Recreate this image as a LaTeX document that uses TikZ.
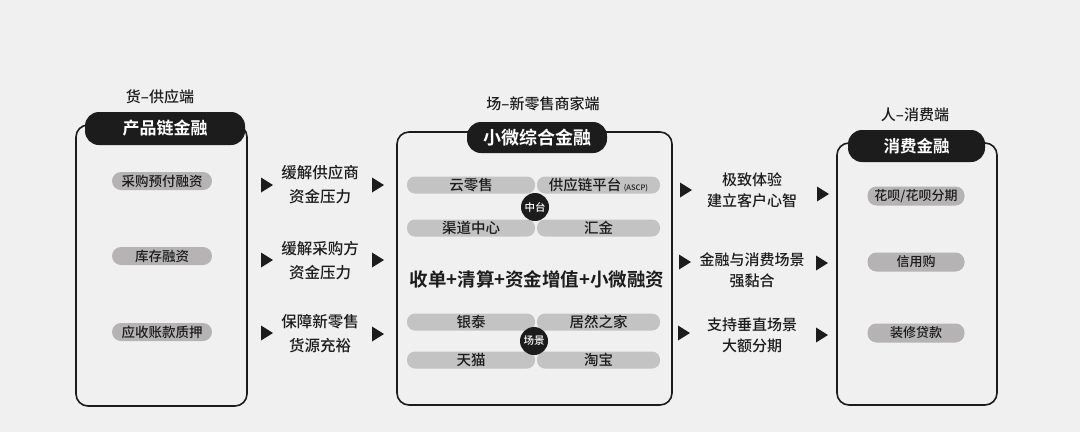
\documentclass[tikz,border=0pt]{standalone}
\usepackage{fontspec}
\setmainfont{Noto Sans CJK SC}[UprightFont={* Medium}, BoldFont={* Bold}]
\definecolor{paper}{HTML}{F1F0F0}
\definecolor{ink}{HTML}{1C1C1C}
\definecolor{pillgray}{HTML}{B5B3B3}
\definecolor{midgray}{HTML}{C4C3C3}
\tikzset{
  framebox/.style={draw=ink, line width=1.6pt, rounded corners=12pt, inner sep=0pt},
  headpill/.style={fill=ink, text=white, rounded corners=14pt, inner sep=0pt,
    font=\bfseries\fontsize{17}{17}\selectfont},
  sidelabel/.style={text=ink, font=\fontsize{15}{15}\selectfont},
  lpill/.style={fill=pillgray, rounded corners=9pt, minimum width=100pt, minimum height=18pt,
    inner sep=0pt, text=ink, font=\fontsize{13.5}{14}\selectfont},
  rpill/.style={fill=pillgray, rounded corners=9pt, minimum width=97pt, minimum height=19pt,
    inner sep=0pt, text=ink, font=\fontsize{13}{14}\selectfont},
  mpill/.style={fill=midgray, rounded corners=8pt, minimum height=17pt,
    inner sep=0pt, text=ink, font=\fontsize{14.5}{15}\selectfont},
  hub/.style={circle, fill=ink, text=white, minimum size=28pt, inner sep=0pt,
    font=\fontsize{10.5}{11}\selectfont},
  note/.style={align=center, text=ink, font=\fontsize{15.5}{24}\selectfont},
  tri/.pic={\fill[ink] (-6,-7.5) -- (6,0) -- (-6,7.5) -- cycle;}
}
\begin{document}
\begin{tikzpicture}[x=1pt,y=-1pt]
\fill[paper] (0,0) rectangle (1080,432);
\useasboundingbox (0,0) rectangle (1080,432);

% ---------- left column ----------
\node[sidelabel] (lt) at (160,97) {货–供应端};
\node[framebox, minimum width=171pt, minimum height=281pt] (lbox) at (161.5,265.5) {};
\node[headpill, minimum width=160pt, minimum height=33pt] (lh) at (165,128.5) {产品链金融};
\node[lpill] (l1) at (162,181) {采购预付融资};
\node[lpill] (l2) at (162,256) {库存融资};
\node[lpill] (l3) at (162,332) {应收账款质押};

% arrows and notes, left
\pic at (267,185) {tri};
\pic at (267,260) {tri};
\pic at (267,333) {tri};
\node[note] (n1) at (320,185) {缓解供应商\\资金压力};
\node[note] (n2) at (320,261) {缓解采购方\\资金压力};
\node[note] (n3) at (320,334) {保障新零售\\货源充裕};
\pic at (378,185) {tri};
\pic at (378,260) {tri};
\pic at (378,334) {tri};

% ---------- middle column ----------
\node[sidelabel] (mt) at (543,104) {场–新零售商家端};
\node[framebox, minimum width=275pt, minimum height=273pt] (mbox) at (534.5,268.5) {};
\node[headpill, minimum width=140pt, minimum height=31pt, font=\bfseries\fontsize{18}{18}\selectfont] (mh) at (537,137.5) {小微综合金融};

\node[mpill, minimum width=128pt] (m1) at (471,185) {云零售};
\node[mpill, minimum width=123pt] (m2) at (598.5,185) {供应链平台\,{\fontsize{7.5}{8}\selectfont(ASCP)}};
\node[mpill, minimum width=128pt] (m3) at (471,228) {渠道中心};
\node[mpill, minimum width=123pt] (m4) at (598.5,228) {汇金};
\node[hub] (zt) at (535,207) {中台};

\node[text=ink, font=\bfseries\fontsize{18.5}{19}\selectfont] (mbig) at (537,279) {收单+清算+资金增值+小微融资};

\node[mpill, minimum width=128pt] (m5) at (471,322) {银泰};
\node[mpill, minimum width=123pt] (m6) at (598.5,322) {居然之家};
\node[mpill, minimum width=128pt] (m7) at (471,360) {天猫};
\node[mpill, minimum width=123pt] (m8) at (598.5,360) {淘宝};
\node[hub] (cj) at (534,341) {场景};

% arrows and notes, right
\pic at (686,190) {tri};
\pic at (685,262) {tri};
\pic at (684,333) {tri};
\node[note, font=\fontsize{15}{21}\selectfont] (n4) at (752,190) {极致体验\\建立客户心智};
\node[note, font=\fontsize{15}{21}\selectfont] (n5) at (752,270) {金融与消费场景\\强黏合};
\node[note, font=\fontsize{15}{21}\selectfont] (n6) at (752,335) {支持垂直场景\\大额分期};
\pic at (823,194) {tri};
\pic at (822,263) {tri};
\pic at (822,335) {tri};

% ---------- right column ----------
\node[sidelabel] (rt) at (915,115) {人–消费端};
\node[framebox, minimum width=160pt, minimum height=262pt] (rbox) at (917,274) {};
\node[headpill, minimum width=137pt, minimum height=32pt, font=\bfseries\fontsize{16.5}{17}\selectfont] (rh) at (916.5,146) {消费金融};
\node[rpill] (r1) at (916,196) {花呗/花呗分期};
\node[rpill] (r2) at (916,262) {信用购};
\node[rpill] (r3) at (916,333) {装修贷款};
\end{tikzpicture}
\end{document}
